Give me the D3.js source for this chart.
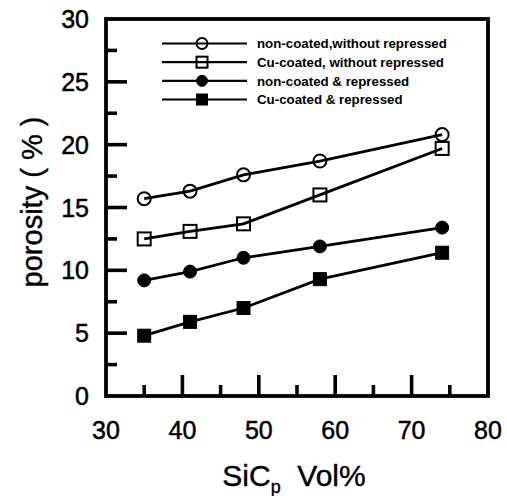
<!DOCTYPE html>
<html>
<head>
<meta charset="utf-8">
<script src="https://cdn.jsdelivr.net/npm/d3@7/dist/d3.min.js"></script>
<style>
  html, body { margin: 0; padding: 0; background: #fff; }
  svg { display: block; font-family: "Liberation Sans", Arial, sans-serif; }
</style>
</head>
<body>
<svg id="chart" width="507" height="496"></svg>
<script>
// SiC particle volume fraction (x) and porosity (%) for four processing routes
const sicVol = [35, 41, 48, 58, 74];
const nonCoatedNoRepress = [15.7, 16.3, 17.6, 18.7, 20.8];
const cuCoatedNoRepress  = [12.5, 13.1, 13.7, 16.0, 19.7];
const nonCoatedRepress   = [9.2, 9.9, 11.0, 11.9, 13.4];
const cuCoatedRepress    = [4.8, 5.9, 7.0, 9.3, 11.4];

const seriesNames = [
  "non-coated,without repressed",
  "Cu-coated, without repressed",
  "non-coated & repressed",
  "Cu-coated & repressed"
];
const seriesMarkers = ["openCircle", "openSquare", "filledCircle", "filledSquare"];

const xTickValues = [30, 40, 50, 60, 70, 80];
const xMinorTicks = [35, 45, 55, 65, 75];
const yTickValues = [0, 5, 10, 15, 20, 25, 30];
const yMinorTicks = [2.5, 7.5, 12.5, 17.5, 22.5, 27.5];

const series = [nonCoatedNoRepress, cuCoatedNoRepress, nonCoatedRepress, cuCoatedRepress]
  .map((vals, i) => ({
    name: seriesNames[i],
    marker: seriesMarkers[i],
    points: vals.map((v, j) => ({ x: sicVol[j], y: v }))
  }));

const svg = d3.select("#chart");
const plot = { left: 106, right: 488, top: 19, bottom: 396 };

const x = d3.scaleLinear().domain([30, 80]).range([plot.left, plot.right]);
const y = d3.scaleLinear().domain([0, 30]).range([plot.bottom, plot.top]);

const ink = "#000";

// Frame
svg.append("rect")
  .attr("x", plot.left).attr("y", plot.top)
  .attr("width", plot.right - plot.left).attr("height", plot.bottom - plot.top)
  .attr("fill", "none").attr("stroke", ink).attr("stroke-width", 3.8);

// Inward ticks: major longer, minor shorter
const majorLen = 21, minorLen = 11;
const xMajorInner = xTickValues.filter(v => v > 30 && v < 80);
const yMajorInner = yTickValues.filter(v => v > 0 && v < 30);

const ticks = svg.append("g").attr("stroke", ink).attr("stroke-width", 3.6);
ticks.selectAll(".xmaj").data(xMajorInner).join("line")
  .attr("x1", d => x(d)).attr("x2", d => x(d))
  .attr("y1", plot.bottom).attr("y2", plot.bottom - majorLen);
ticks.selectAll(".xmin").data(xMinorTicks).join("line")
  .attr("x1", d => x(d)).attr("x2", d => x(d))
  .attr("y1", plot.bottom).attr("y2", plot.bottom - minorLen);
ticks.selectAll(".ymaj").data(yMajorInner).join("line")
  .attr("x1", plot.left).attr("x2", plot.left + majorLen)
  .attr("y1", d => y(d)).attr("y2", d => y(d));
ticks.selectAll(".ymin").data(yMinorTicks).join("line")
  .attr("x1", plot.left).attr("x2", plot.left + minorLen)
  .attr("y1", d => y(d)).attr("y2", d => y(d));

// Tick labels
svg.append("g").selectAll("text").data(xTickValues).join("text")
  .attr("x", d => x(d)).attr("y", plot.bottom + 43)
  .attr("text-anchor", "middle")
  .attr("font-size", 25).attr("fill", ink)
  .attr("stroke", ink).attr("stroke-width", 0.5)
  .text(d => d);

svg.append("g").selectAll("text").data(yTickValues).join("text")
  .attr("x", plot.left - 17).attr("y", d => y(d))
  .attr("dy", "0.36em")
  .attr("text-anchor", "end")
  .attr("font-size", 25).attr("fill", ink)
  .attr("stroke", ink).attr("stroke-width", 0.5)
  .text(d => d);

// Axis titles
const xTitle = svg.append("text")
  .attr("x", 294).attr("y", 486)
  .attr("text-anchor", "middle")
  .attr("font-size", 30).attr("fill", ink)
  .attr("stroke", ink).attr("stroke-width", 0.4);
xTitle.append("tspan").text("SiC");
xTitle.append("tspan").attr("font-size", 18).attr("dy", 7).text("p");
xTitle.append("tspan").attr("dy", -7).text("\u00a0 Vol%");

svg.append("text")
  .attr("transform", "translate(42,202) rotate(-90)")
  .attr("text-anchor", "middle")
  .attr("font-size", 29).attr("fill", ink)
  .attr("stroke", ink).attr("stroke-width", 0.4)
  .text("porosity ( % )");

// Marker drawing
function drawMarker(sel, type, size) {
  const filled = type.startsWith("filled");
  if (type.endsWith("Circle")) {
    sel.append("circle").attr("r", size / 2)
      .attr("fill", filled ? ink : "none")
      .attr("stroke", ink).attr("stroke-width", filled ? 1 : 2);
  } else {
    sel.append("rect")
      .attr("x", -size / 2).attr("y", -size / 2)
      .attr("width", size).attr("height", size)
      .attr("fill", filled ? ink : "none")
      .attr("stroke", ink).attr("stroke-width", filled ? 1 : 2);
  }
}

// Series lines and markers
const line = d3.line().x(d => x(d.x)).y(d => y(d.y));
const g = svg.append("g");
series.forEach(s => {
  g.append("path").datum(s.points)
    .attr("d", line)
    .attr("fill", "none").attr("stroke", ink).attr("stroke-width", 2.8);
  g.selectAll(null).data(s.points).join("g")
    .attr("transform", d => `translate(${x(d.x)},${y(d.y)})`)
    .each(function () { drawMarker(d3.select(this), s.marker, 13); });
});

// Legend
const legendRow = d3.scalePoint().domain(d3.range(series.length)).range([43.5, 99.5]);
const legend = svg.append("g");
series.forEach((s, i) => {
  const row = legend.append("g").attr("transform", `translate(0,${legendRow(i)})`);
  row.append("line").attr("x1", 162).attr("x2", 247).attr("y1", 0).attr("y2", 0)
    .attr("stroke", ink).attr("stroke-width", 2.2);
  const m = row.append("g").attr("transform", "translate(202,0)");
  drawMarker(m, s.marker, 11);
  row.append("text").attr("x", 257).attr("y", 0).attr("dy", "0.36em")
    .attr("font-size", 13.3).attr("font-weight", "bold").attr("fill", ink)
    .text(s.name);
});
</script>
</body>
</html>
